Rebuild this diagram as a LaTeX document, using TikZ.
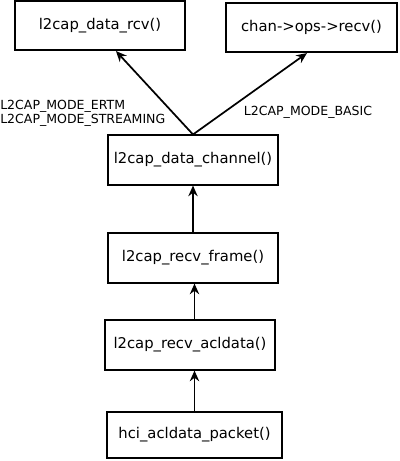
\documentclass[tikz,border=0pt]{standalone}
\usepackage{fontspec}
\setmainfont{DejaVu Sans}
\usetikzlibrary{arrows.meta,positioning}
\tikzset{
  fnbox/.style={draw, line width=1.3pt, minimum width=128pt, minimum height=37pt,
    inner sep=0pt, font=\fontsize{11.1}{13}\selectfont},
  flow/.style={-{Stealth[length=8pt,width=7pt]}, line width=1.3pt},
  modelbl/.style={font=\fontsize{9.4}{10.5}\selectfont, inner sep=0pt},
}

\begin{document}
\begin{tikzpicture}[x=0.75pt, y=-0.75pt]
    \useasboundingbox (0,0) rectangle (400,461);
    % top row
    \node[fnbox] (rcv) at (100,25.5) {l2cap\_data\_rcv()};
    \node[fnbox] (ops) at (311.5,27.5) {chan->ops->recv()};
    % call chain
    \node[fnbox] (chan) at (193,160) {l2cap\_data\_channel()};
    \node[fnbox] (frame) at (193,258) {l2cap\_recv\_frame()};
    \node[fnbox] (acldata) at (190,345) {l2cap\_recv\_acldata()};
    \node[fnbox, minimum width=131pt, minimum height=34.5pt] (packet) at (194.5,435) {hci\_acldata\_packet()};
    % modes
    \node[modelbl, anchor=west, align=left] (ertm) at (0,113) {L2CAP\_MODE\_ERTM\\L2CAP\_MODE\_STREAMING};
    \node[modelbl] (basic) at (308,112) {L2CAP\_MODE\_BASIC};
    % arrows
    \draw[flow] (packet.north) -- (packet.north |- acldata.south);
    \draw[flow] (acldata.north -| packet.north) -- (frame.south -| packet.north);
    \draw[flow] (frame.north) -- (chan.south);
    \draw[flow] (chan.north) -- (rcv.-58);
    \draw[flow] (chan.north) -- (ops.-100);
\end{tikzpicture}
\end{document}
